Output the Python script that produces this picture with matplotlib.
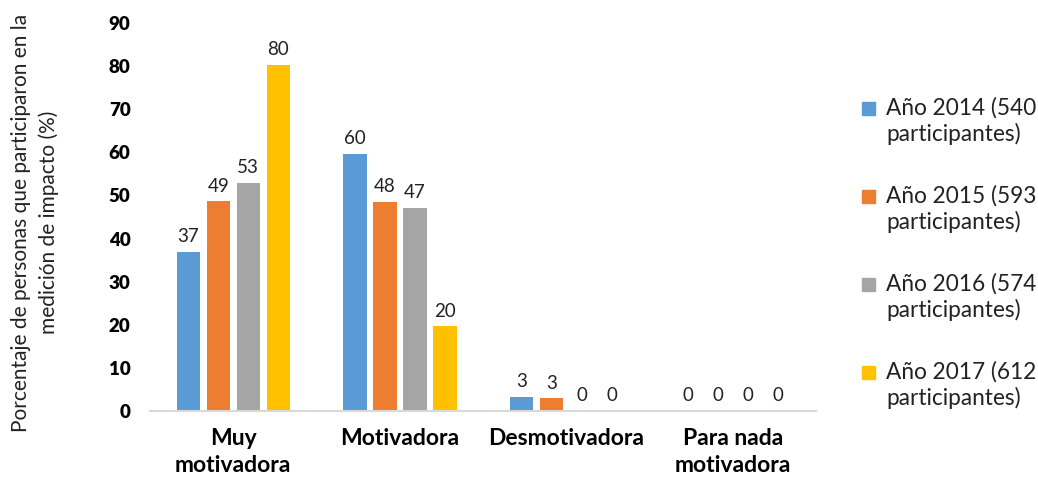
import numpy as np
import matplotlib.pyplot as plt
from matplotlib.patches import Rectangle

plt.rcParams['font.family'] = ['Lato', 'DejaVu Sans']

# Categories and share of participants per year (%)
categorias = ['Muy\nmotivadora', 'Motivadora', 'Desmotivadora', 'Para nada\nmotivadora']
anio_2014 = [36.9, 59.6, 3.3, 0]
anio_2015 = [48.6, 48.4, 2.9, 0]
anio_2016 = [52.9, 47.1, 0, 0]
anio_2017 = [80.3, 19.6, 0, 0]
series = [anio_2014, anio_2015, anio_2016, anio_2017]
etiquetas = ['Año 2014 (540\nparticipantes)', 'Año 2015 (593\nparticipantes)',
             'Año 2016 (574\nparticipantes)', 'Año 2017 (612\nparticipantes)']
colores = ['#5B9BD5', '#ED7D31', '#A5A5A5', '#FFC000']

fig = plt.figure(figsize=(10.38, 4.79), dpi=100)
ax = fig.add_axes([0.1445, 0.142, 0.642, 0.810])

x = np.arange(len(categorias))
paso = 0.18
ancho = 0.14
for i, (vals, col) in enumerate(zip(series, colores)):
    pos = x + (i - 1.5) * paso
    barras = ax.bar(pos, vals, width=ancho, color=col)
    for b, v in zip(barras, vals):
        ax.annotate(f'{v:.0f}', (b.get_x() + b.get_width() / 2, v),
                    xytext=(0, 5), textcoords='offset points',
                    ha='center', va='bottom', fontsize=13.5, color='#222222')

ax.set_xlim(-0.5, 3.5)
ax.set_ylim(0, 90)
ax.set_yticks(range(0, 91, 10))
ax.set_xticks(x)
ax.set_xticklabels(categorias, fontsize=16.5, fontweight='bold', linespacing=1.35)
for t in ax.get_yticklabels():
    t.set_fontweight('heavy')
    t.set_fontsize(13.5)
ax.tick_params(axis='both', length=0, colors='#000000')
ax.tick_params(axis='x', pad=12)
ax.tick_params(axis='y', pad=14)
for s in ['top', 'right', 'left']:
    ax.spines[s].set_visible(False)
ax.spines['bottom'].set_color('#D9D9D9')
ax.spines['bottom'].set_linewidth(1.5)

fig.text(0.034, 0.535, 'Porcentaje de personas que participaron en la\nmedición de impacto (%)',
         rotation=90, ha='center', va='center', fontsize=15, linespacing=1.45,
         color='#222222')

# Legend drawn by hand so the marker sits on the first line of each entry
y0 = 479 - 109
for i, (lab, col) in enumerate(zip(etiquetas, colores)):
    yc = (y0 - i * 88) / 479
    fig.add_artist(Rectangle((862 / 1038, yc - 6 / 479), 13 / 1038, 13 / 479,
                             transform=fig.transFigure, color=col))
    fig.text(886 / 1038, yc + 12 / 479, lab, ha='left', va='top', fontsize=16.3,
             linespacing=1.22, color='#222222')

fig.savefig('out.png', dpi=100)
